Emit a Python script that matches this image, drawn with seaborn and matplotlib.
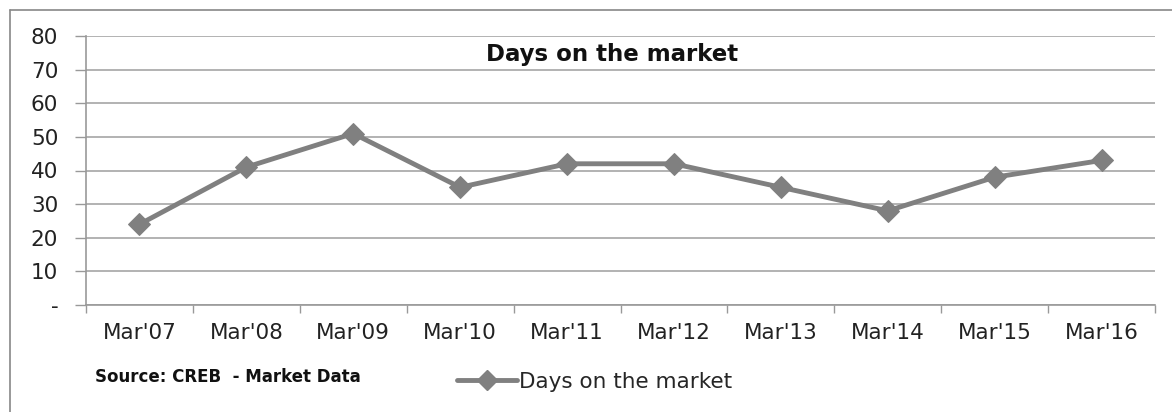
import matplotlib
matplotlib.use("Agg")
import matplotlib.pyplot as plt
import seaborn as sns
import pandas as pd
from matplotlib.lines import Line2D
from matplotlib.ticker import FixedLocator

categories = ["Mar'07", "Mar'08", "Mar'09", "Mar'10", "Mar'11", "Mar'12",
              "Mar'13", "Mar'14", "Mar'15", "Mar'16"]
days_on_market = [24, 41, 51, 35, 42, 42, 35, 28, 38, 43]
y_ticks = [0, 10, 20, 30, 40, 50, 60, 70, 80]
y_tick_labels = ["-", "10", "20", "30", "40", "50", "60", "70", "80"]
series_name = "Days on the market"
title = "Days on the market"
source = "Source: CREB  - Market Data"

sns.set_theme(style="white")
plt.rcParams['font.family'] = ['DejaVu Sans']

df = pd.DataFrame({"Month": categories, series_name: days_on_market})

fig = plt.figure(figsize=(11.72, 4.12), dpi=100)
ax = fig.add_axes([86/1172, 1-305/412, (1155-86)/1172, (305-36)/412])

line_color = "#808080"
sns.lineplot(data=df, x="Month", y=series_name, ax=ax, color=line_color,
             linewidth=3.5, marker="D", markersize=11.5, markeredgecolor=line_color,
             sort=False)

tick_fs = 15.5
ax.set_xlim(-0.5, len(categories) - 0.5)
ax.set_ylim(0, 80)
ax.set_yticks(y_ticks)
ax.set_yticklabels(y_tick_labels, fontsize=tick_fs, color="#222222")
ax.set_xticks(range(len(categories)))
ax.set_xticklabels(categories, fontsize=tick_fs, color="#222222")
ax.xaxis.set_minor_locator(FixedLocator([i - 0.5 for i in range(len(categories) + 1)]))
ax.tick_params(axis="x", which="major", length=0, pad=13)
ax.tick_params(axis="x", which="minor", length=6, width=1, color="#999999", direction="out", bottom=True)
ax.tick_params(axis="y", length=8, width=1, color="#999999", direction="out", left=True, pad=12)
ax.set_xlabel("")
ax.set_ylabel("")
ax.grid(axis="y", color="#a6a6a6", linewidth=1.2)
ax.set_axisbelow(True)
for s in ["top", "right"]:
    ax.spines[s].set_visible(False)
for s in ["left", "bottom"]:
    ax.spines[s].set_color("#999999")
    ax.spines[s].set_linewidth(1.2)

ax.text(0.492, 0.93, title, transform=ax.transAxes, ha="center", va="center",
        fontsize=16.5, fontweight="bold", color="#111111")

if ax.get_legend() is not None:
    ax.get_legend().remove()

handle = Line2D([], [], color=line_color, linewidth=3.5, marker="D", markersize=10,
                markeredgecolor=line_color)
fig.legend([handle], [series_name], loc="center left",
           bbox_to_anchor=(448/1172, 1-382/412), frameon=False, fontsize=tick_fs,
           handlelength=2.8, handletextpad=0.1, borderaxespad=0)

fig.text(95/1172, 1-377/412, source, fontsize=12, fontweight="bold",
         color="#111111", va="center", ha="left")

# outer chart frame (Excel-style)
fig.add_artist(Line2D([10/1172, 1.0], [1-10/412, 1-10/412], transform=fig.transFigure,
                      color="#888888", linewidth=1.2))
fig.add_artist(Line2D([10/1172, 10/1172], [0, 1-10/412], transform=fig.transFigure,
                      color="#888888", linewidth=1.2))

fig.savefig("out.png", dpi=100)
